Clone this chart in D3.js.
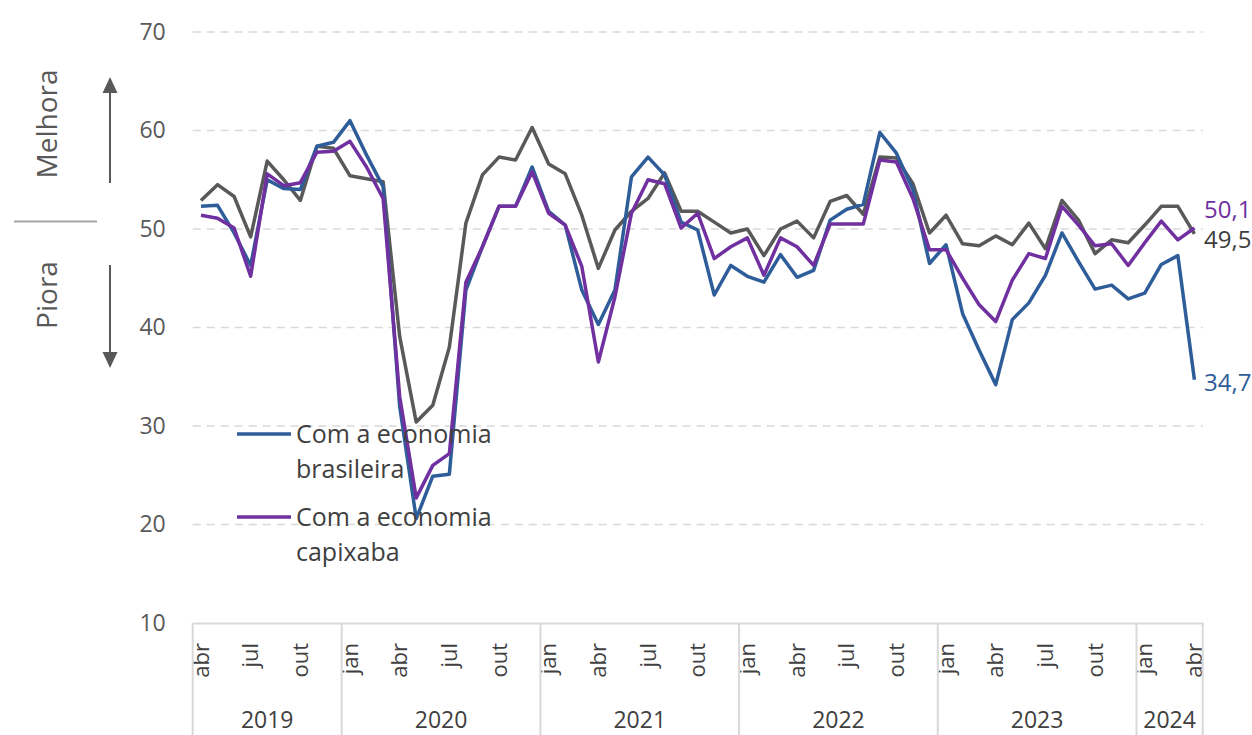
<!DOCTYPE html>
<html>
<head>
<meta charset="utf-8">
<script src="https://cdn.jsdelivr.net/npm/d3@7.9.0/dist/d3.min.js"></script>
<style>
  body { margin: 0; background: #fff; }
  svg { display: block; font-family: 'Open Sans', 'Noto Sans', sans-serif; }
</style>
</head>
<body>
<svg id="chart" width="1252" height="735"></svg>
<script>
// Months from abr/2019 to abr/2024
const months = [
  'abr','mai','jun','jul','ago','set','out','nov','dez',
  'jan','fev','mar','abr','mai','jun','jul','ago','set','out','nov','dez',
  'jan','fev','mar','abr','mai','jun','jul','ago','set','out','nov','dez',
  'jan','fev','mar','abr','mai','jun','jul','ago','set','out','nov','dez',
  'jan','fev','mar','abr','mai','jun','jul','ago','set','out','nov','dez',
  'jan','fev','mar','abr'
];
const tickMonths = ['jan', 'abr', 'jul', 'out'];
const years = ['2019', '2020', '2021', '2022', '2023', '2024'];
const monthsPerYear = [9, 12, 12, 12, 12, 4];
const yTicks = [10, 20, 30, 40, 50, 60, 70];

// Com a economia brasileira
const brasileira = [
  52.3, 52.4, 49.6, 46.3, 55.0, 54.1, 54.0, 58.4, 58.8, 61.0, 57.5, 54.3,
  32.0, 20.6, 24.9, 25.1, 43.8, 48.2, 52.3, 52.3, 56.3, 51.8, 50.4, 43.8,
  40.3, 43.8, 55.3, 57.3, 55.5, 50.7, 49.9, 43.3, 46.3, 45.2, 44.6, 47.4,
  45.1, 45.8, 50.9, 52.0, 52.5, 59.8, 57.7, 54.0, 46.5, 48.4, 41.4, 37.7,
  34.2, 40.8, 42.5, 45.3, 49.6, 46.7, 43.9, 44.3, 42.9, 43.5, 46.4, 47.3,
  34.7
];
// Com a economia capixaba
const capixaba = [
  51.4, 51.1, 50.1, 45.2, 55.6, 54.4, 54.7, 57.8, 57.9, 58.9, 56.3, 53.1,
  33.0, 22.7, 26.0, 27.2, 44.6, 48.2, 52.3, 52.3, 55.8, 51.6, 50.4, 46.2,
  36.5, 43.1, 51.6, 55.0, 54.6, 50.1, 51.6, 47.0, 48.2, 49.1, 45.3, 49.1,
  48.2, 46.3, 50.5, 50.5, 50.5, 57.0, 56.8, 53.1, 47.9, 47.9, 45.0, 42.3,
  40.6, 44.8, 47.5, 47.0, 52.3, 50.4, 48.3, 48.5, 46.3, 48.6, 50.8, 48.9,
  50.1
];
// third series (gray)
const empresa = [
  52.9, 54.5, 53.3, 49.2, 56.9, 55.0, 52.9, 58.4, 58.2, 55.4, 55.1, 54.8,
  39.1, 30.4, 32.1, 38.0, 50.6, 55.5, 57.3, 57.0, 60.3, 56.6, 55.6, 51.4,
  46.0, 49.9, 51.8, 53.1, 55.7, 51.8, 51.8, 50.7, 49.6, 50.0, 47.3, 50.0,
  50.8, 49.1, 52.8, 53.4, 51.5, 57.3, 57.2, 54.6, 49.6, 51.4, 48.5, 48.3,
  49.3, 48.4, 50.6, 48.0, 52.9, 50.9, 47.5, 48.9, 48.6, 50.4, 52.3, 52.3,
  49.5
];

const series = [
  { name: 'empresa', values: empresa, color: '#595959', label: '49,5', labelColor: '#404040', labelY: 240 },
  { name: 'Com a economia brasileira', values: brasileira, color: '#2e5d99', label: '34,7', labelColor: '#2e5d99', labelY: 383 },
  { name: 'Com a economia capixaba', values: capixaba, color: '#7030a0', label: '50,1', labelColor: '#7030a0', labelY: 210 },
];

const svg = d3.select('#chart');
const plotLeft = 192.7, plotRight = 1202.7, plotTop = 32, plotBottom = 623;

const x = d3.scaleBand().domain(d3.range(months.length)).range([plotLeft, plotRight]).padding(0);
const y = d3.scaleLinear().domain([10, 70]).range([plotBottom, plotTop]);
const cx = (i) => x(i) + x.bandwidth() / 2;

// gridlines
svg.append('g')
  .selectAll('line')
  .data(yTicks.filter((d) => d > 10))
  .join('line')
  .attr('x1', plotLeft)
  .attr('x2', plotRight)
  .attr('y1', (d) => y(d))
  .attr('y2', (d) => y(d))
  .attr('stroke', '#d9d9d9')
  .attr('stroke-width', 1.5)
  .attr('stroke-dasharray', '8,6');

// y axis
const yAxis = svg.append('g')
  .attr('transform', `translate(${plotLeft},0)`)
  .call(d3.axisLeft(y).tickValues(yTicks).tickSize(0).tickPadding(27));
yAxis.select('.domain').remove();
yAxis.selectAll('text')
  .attr('font-size', 23)
  .attr('fill', '#595959')
  .style('font-family', "'Open Sans', sans-serif");

// x axis (months)
const xAxis = svg.append('g')
  .attr('transform', `translate(0,${plotBottom})`)
  .call(
    d3.axisBottom(x)
      .tickValues(d3.range(months.length).filter((i) => tickMonths.includes(months[i])))
      .tickSize(0)
      .tickFormat((i) => months[i])
  );
xAxis.select('.domain')
  .attr('stroke', '#d9d9d9')
  .attr('stroke-width', 2);
xAxis.selectAll('text')
  .attr('transform', 'rotate(-90)')
  .attr('text-anchor', 'end')
  .attr('x', -20)
  .attr('y', 0)
  .attr('dy', '0.35em')
  .attr('font-size', 22)
  .attr('fill', '#404040')
  .style('font-family', "'Open Sans', sans-serif");

// year separators and labels
let start = 0;
const bounds = [0];
monthsPerYear.forEach((n) => { start += n; bounds.push(start); });
const bx = (b) => (b < months.length ? x(b) : plotRight);
svg.append('g')
  .selectAll('line')
  .data(bounds)
  .join('line')
  .attr('x1', bx)
  .attr('x2', bx)
  .attr('y1', plotBottom)
  .attr('y2', 735)
  .attr('stroke', '#d9d9d9')
  .attr('stroke-width', 2);

svg.append('g')
  .selectAll('text')
  .data(years)
  .join('text')
  .attr('x', (d, k) => (bx(bounds[k]) + bx(bounds[k + 1])) / 2)
  .attr('y', 728)
  .attr('text-anchor', 'middle')
  .attr('font-size', 23)
  .attr('fill', '#404040')
  .text((d) => d);

// lines
const line = d3.line()
  .x((d, i) => cx(i))
  .y((d) => y(d));

svg.append('g')
  .selectAll('path')
  .data(series)
  .join('path')
  .attr('d', (s) => line(s.values))
  .attr('fill', 'none')
  .attr('stroke', (s) => s.color)
  .attr('stroke-width', 3.5)
  .attr('stroke-linejoin', 'round');

// end labels
svg.append('g')
  .selectAll('text')
  .data(series)
  .join('text')
  .attr('x', 1204)
  .attr('y', (s) => s.labelY)
  .attr('dy', '0.35em')
  .attr('font-size', 24)
  .attr('fill', (s) => s.labelColor)
  .text((s) => s.label);

// legend
const legendItems = [
  { lines: ['Com a economia', 'brasileira'], color: '#2e5d99', y: 434 },
  { lines: ['Com a economia', 'capixaba'], color: '#7030a0', y: 517 },
];
const legend = svg.append('g');
legendItems.forEach((item) => {
  legend.append('line')
    .attr('x1', 237)
    .attr('x2', 291)
    .attr('y1', item.y)
    .attr('y2', item.y)
    .attr('stroke', item.color)
    .attr('stroke-width', 3.5);
  legend.append('text')
    .attr('x', 296)
    .attr('y', item.y)
    .attr('font-size', 25)
    .attr('fill', '#404040')
    .selectAll('tspan')
    .data(item.lines)
    .join('tspan')
    .attr('x', 296)
    .attr('dy', (d, k) => (k === 0 ? '0.35em' : '1.42em'))
    .text((d) => d);
});

// Melhora / Piora annotation
const ann = svg.append('g').attr('fill', '#595959');
ann.append('text')
  .attr('transform', 'translate(47,124) rotate(-90)')
  .attr('text-anchor', 'middle')
  .attr('dy', '0.35em')
  .attr('font-size', 28)
  .text('Melhora');
ann.append('text')
  .attr('transform', 'translate(47,295) rotate(-90)')
  .attr('text-anchor', 'middle')
  .attr('dy', '0.35em')
  .attr('font-size', 28)
  .text('Piora');
svg.append('line')
  .attr('x1', 14).attr('x2', 97)
  .attr('y1', 221.5).attr('y2', 221.5)
  .attr('stroke', '#a6a6a6')
  .attr('stroke-width', 2);

// arrows
svg.append('line')
  .attr('x1', 110).attr('x2', 110)
  .attr('y1', 183).attr('y2', 90)
  .attr('stroke', '#595959').attr('stroke-width', 2);
svg.append('path')
  .attr('d', 'M110,77 L117.5,93 L102.5,93 Z')
  .attr('fill', '#595959');
svg.append('line')
  .attr('x1', 110).attr('x2', 110)
  .attr('y1', 265).attr('y2', 355)
  .attr('stroke', '#595959').attr('stroke-width', 2);
svg.append('path')
  .attr('d', 'M110,368 L117.5,352 L102.5,352 Z')
  .attr('fill', '#595959');
</script>
</body>
</html>
